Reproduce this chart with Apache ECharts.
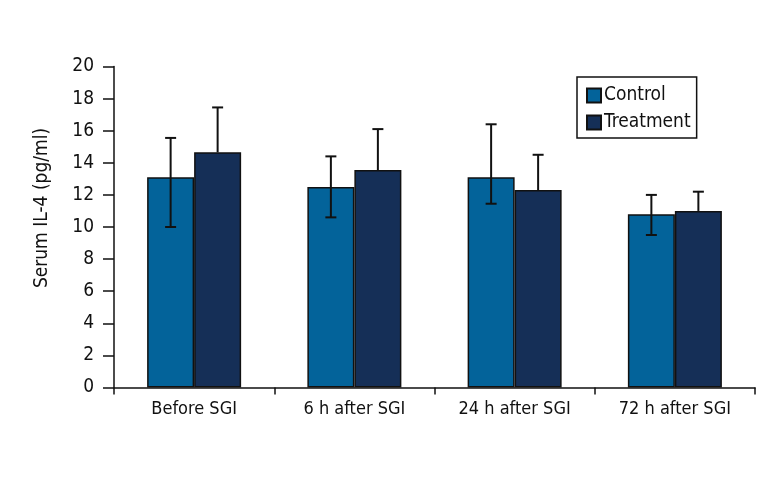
<!DOCTYPE html>
<html>
<head>
<meta charset="utf-8">
<script src="https://cdn.jsdelivr.net/npm/echarts@6/dist/echarts.min.js"></script>
<style>
html,body{margin:0;padding:0;background:#fff;}
#chart{width:768px;height:480px;}
</style>
</head>
<body>
<div id="chart"></div>
<script>
var categories = ['Before SGI', '6 h after SGI', '24 h after SGI', '72 h after SGI'];
var control = [13.1, 12.5, 13.1, 10.8];
var controlHigh = [15.55, 14.4, 16.4, 12.0];
var controlLow = [10.0, 10.6, 11.45, 9.5];
var treatment = [14.65, 13.55, 12.3, 11.0];
var treatmentHigh = [17.45, 16.1, 14.5, 12.2];
var yTicks = [0, 2, 4, 6, 8, 10, 12, 14, 16, 18, 20];

var FONT = '"Liberation Sans Narrow", "DejaVu Sans Condensed", sans-serif';
var BAR_W = 47;

function errorSeries(high, low, side, lowCap) {
  var data = high.map(function (h, i) { return [i, h, low[i]]; });
  return {
    type: 'custom',
    z: 5,
    silent: true,
    data: data,
    encode: { x: 0, y: [1, 2] },
    renderItem: function (params, api) {
      var i = api.value(0);
      var pHigh = api.coord([i, api.value(1)]);
      var pLow = api.coord([i, api.value(2)]);
      var x = pHigh[0] + side * BAR_W / 2;
      var cap = 5.5;
      var style = { stroke: '#111', lineWidth: 2 };
      var children = [
        { type: 'line', shape: { x1: x, y1: pHigh[1], x2: x, y2: pLow[1] }, style: style },
        { type: 'line', shape: { x1: x - cap, y1: pHigh[1], x2: x + cap, y2: pHigh[1] }, style: style }
      ];
      if (lowCap) {
        children.push({ type: 'line', shape: { x1: x - cap, y1: pLow[1], x2: x + cap, y2: pLow[1] }, style: style });
      }
      return { type: 'group', children: children };
    }
  };
}

var chart = echarts.init(document.getElementById('chart'), null, { renderer: 'canvas' });
chart.setOption({
  animation: false,
  backgroundColor: '#ffffff',
  textStyle: { fontFamily: FONT },
  grid: { left: 114, right: 13, top: 66.5, bottom: 92.5, containLabel: false },
  legend: {
    data: ['Control', 'Treatment'],
    orient: 'vertical',
    left: 577,
    top: 77,
    padding: [9, 6, 6, 9],
    itemWidth: 14,
    itemHeight: 14,
    itemGap: 8,
    borderColor: '#111',
    borderWidth: 1.5,
    icon: 'rect',
    textStyle: { fontFamily: FONT, fontSize: 19, color: '#111', lineHeight: 14, padding: [0, 0, 0, -2] }
  },
  xAxis: {
    type: 'category',
    data: categories,
    boundaryGap: true,
    axisLine: { lineStyle: { color: '#111', width: 1.5 } },
    axisTick: { show: true, interval: 0, length: 7, lineStyle: { color: '#111', width: 1.5 } },
    axisLabel: { interval: 0, fontFamily: FONT, fontSize: 18, color: '#111', margin: 13 },
    splitLine: { show: false }
  },
  yAxis: {
    type: 'value',
    min: yTicks[0],
    max: yTicks[yTicks.length - 1],
    interval: 2,
    name: 'Serum IL-4 (pg/ml)',
    nameLocation: 'middle',
    nameGap: 62,
    nameTextStyle: { fontFamily: FONT, fontSize: 19, color: '#111', padding: [0, 0, 0, 38] },
    axisLine: { show: true, lineStyle: { color: '#111', width: 1.5 } },
    axisTick: { show: true, length: 11, lineStyle: { color: '#111', width: 1.5 } },
    axisLabel: { fontFamily: FONT, fontSize: 19, color: '#111', margin: 20 },
    splitLine: { show: false }
  },
  series: [
    {
      name: 'Control',
      type: 'bar',
      data: control,
      barWidth: BAR_W,
      barGap: '0%',
      itemStyle: { color: '#03639a', borderColor: '#111', borderWidth: 1.5 }
    },
    {
      name: 'Treatment',
      type: 'bar',
      data: treatment,
      barWidth: BAR_W,
      barGap: '0%',
      itemStyle: { color: '#152f57', borderColor: '#111', borderWidth: 1.5 }
    },
    errorSeries(controlHigh, controlLow, -1, true),
    errorSeries(treatmentHigh, treatment, 1, false)
  ]
});
</script>
</body>
</html>
